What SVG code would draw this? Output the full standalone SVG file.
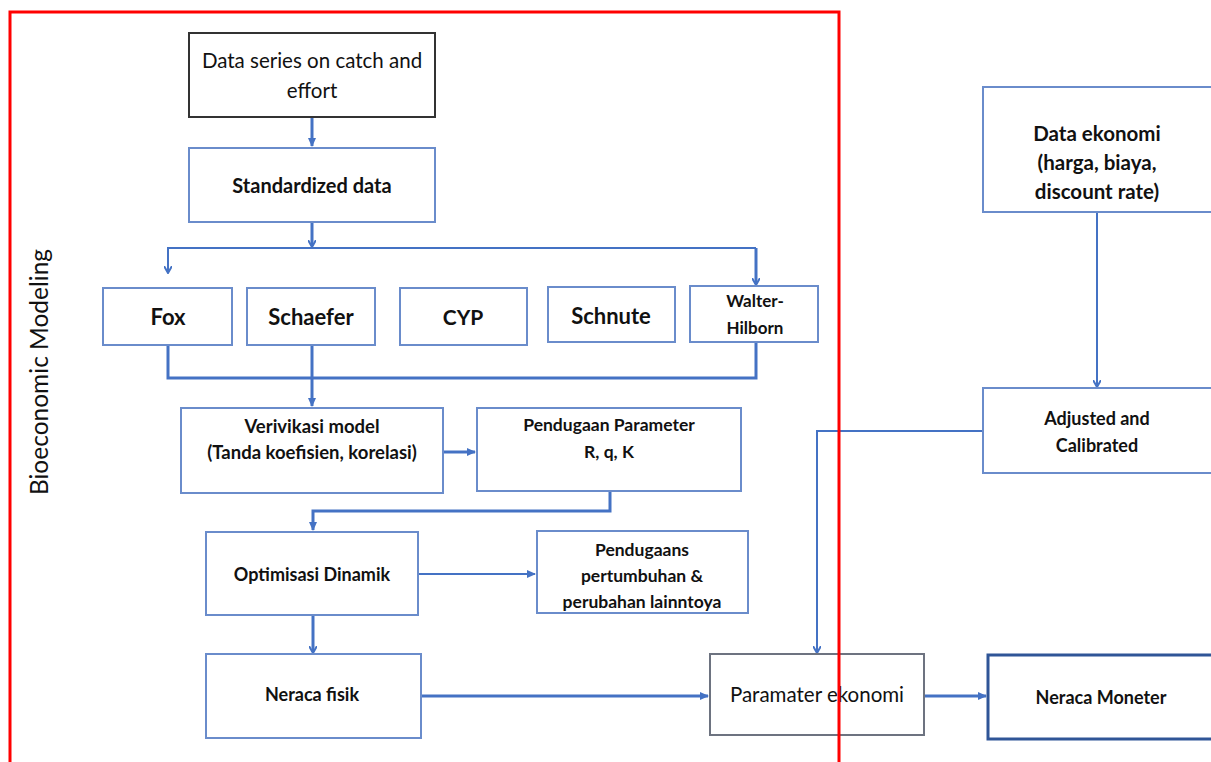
<svg xmlns="http://www.w3.org/2000/svg" width="1211" height="762" viewBox="0 0 1211 762">
<style>
.box{fill:#fff;stroke:#6A8CCB;stroke-width:2}
.dark{fill:#fff;stroke:#333;stroke-width:2}
.gray{fill:#fff;stroke:#6D7380;stroke-width:2}
.navy{fill:#fff;stroke:#2F5597;stroke-width:3}
.c{fill:none;stroke:#4472C4;stroke-width:3}
.t{fill:none;stroke:#4472C4;stroke-width:2}
text{font-family:Lato,"Liberation Sans",sans-serif;fill:#111;text-anchor:middle}
.b{font-weight:bold}
</style>
<defs>
<marker id="ah" markerWidth="8" markerHeight="8" refX="6" refY="4" orient="auto" markerUnits="userSpaceOnUse" viewBox="0 0 8 8">
<path d="M0,0 L7,4 L0,8" fill="none" stroke="#4472C4" stroke-width="2"/>
</marker>
<marker id="af" markerWidth="10" markerHeight="10" refX="8" refY="5" orient="auto" markerUnits="userSpaceOnUse" viewBox="0 0 10 10">
<path d="M0,1 L9,5 L0,9 Z" fill="#4472C4"/>
</marker>
</defs>
<rect width="1211" height="762" fill="#fff"/>

<g id="connectors">
<line class="c" x1="312" y1="117" x2="312" y2="146" marker-end="url(#af)"/>
<line class="c" x1="312" y1="210" x2="312" y2="246" marker-end="url(#ah)"/>
<polyline class="t" points="168,272 168,248 756,248"/>
<line class="t" x1="168" y1="262" x2="168" y2="272" marker-end="url(#ah)"/>
<line class="c" x1="756" y1="248" x2="756" y2="284" marker-end="url(#ah)"/>
<polyline class="c" points="168,345 168,378 756,378 756,342"/>
<line class="c" x1="312" y1="345" x2="312" y2="406" marker-end="url(#af)"/>
<line class="c" x1="443" y1="452" x2="475" y2="452" marker-end="url(#af)"/>
<polyline class="c" points="610,491 610,511 313,511 313,530" marker-end="url(#af)"/>
<line class="t" x1="418" y1="574" x2="535" y2="574" marker-end="url(#af)"/>
<line class="c" x1="313" y1="615" x2="313" y2="652" marker-end="url(#ah)"/>
<line class="c" x1="421" y1="696" x2="708" y2="696" marker-end="url(#af)"/>
<line class="c" x1="924" y1="696" x2="986" y2="696" marker-end="url(#af)"/>
<line class="t" x1="1097" y1="213" x2="1097" y2="386" marker-end="url(#ah)"/>
<polyline class="t" points="983,431 817,431 817,652" marker-end="url(#ah)"/>
</g>

<g id="n-data-series">
<rect class="dark" x="189" y="33" width="246" height="84"/>
<text x="312" y="68" font-size="20.5">Data series on catch and</text>
<text x="312" y="98" font-size="20.5">effort</text>
</g>
<g id="n-standardized">
<rect class="box" x="189" y="148" width="246" height="74"/>
<text class="b" x="312" y="193" font-size="20">Standardized data</text>
</g>
<g id="n-fox">
<rect class="box" x="103" y="288" width="129" height="57"/>
<text class="b" x="168" y="325" font-size="22">Fox</text>
</g>
<g id="n-schaefer">
<rect class="box" x="247" y="288" width="128" height="57"/>
<text class="b" x="311" y="325" font-size="22">Schaefer</text>
</g>
<g id="n-cyp">
<rect class="box" x="400" y="288" width="127" height="57"/>
<text class="b" x="463" y="325" font-size="21">CYP</text>
</g>
<g id="n-schnute">
<rect class="box" x="548" y="287" width="127" height="55"/>
<text class="b" x="611" y="324" font-size="22">Schnute</text>
</g>
<g id="n-walter">
<rect class="box" x="690" y="286" width="128" height="56"/>
<text class="b" x="755" y="307" font-size="17">Walter-</text>
<text class="b" x="755" y="334" font-size="17">Hilborn</text>
</g>
<g id="n-verivikasi">
<rect class="box" x="181" y="408" width="262" height="85"/>
<text class="b" x="312" y="433" font-size="18.5">Verivikasi model</text>
<text class="b" x="312" y="459" font-size="18.5">(Tanda koefisien, korelasi)</text>
</g>
<g id="n-pendugaan-param">
<rect class="box" x="477" y="408" width="264" height="83"/>
<text class="b" x="609" y="431" font-size="17.5">Pendugaan Parameter</text>
<text class="b" x="609" y="458" font-size="17.5">R, q, K</text>
</g>
<g id="n-optimisasi">
<rect class="box" x="206" y="532" width="212" height="83"/>
<text class="b" x="312" y="581" font-size="18">Optimisasi Dinamik</text>
</g>
<g id="n-pendugaans">
<rect class="box" x="537" y="531" width="211" height="82"/>
<text class="b" x="642" y="556" font-size="17.5">Pendugaans</text>
<text class="b" x="642" y="582" font-size="17.5">pertumbuhan &amp;</text>
<text class="b" x="642" y="608" font-size="17.5">perubahan lainntoya</text>
</g>
<g id="n-neraca-fisik">
<rect class="box" x="206" y="654" width="215" height="84"/>
<text class="b" x="312" y="701" font-size="18">Neraca fisik</text>
</g>
<g id="n-paramater">
<rect class="gray" x="710" y="654" width="214" height="81"/>
<text x="817" y="702" font-size="20.5">Paramater ekonomi</text>
</g>
<g id="n-neraca-moneter">
<rect class="navy" x="988" y="655" width="230" height="84"/>
<text class="b" x="1101" y="704" font-size="18">Neraca Moneter</text>
</g>
<g id="n-data-ekonomi">
<rect class="box" x="983" y="87" width="235" height="125"/>
<text class="b" x="1097" y="141" font-size="20.5">Data ekonomi</text>
<text class="b" x="1097" y="170" font-size="20.5">(harga, biaya,</text>
<text class="b" x="1097" y="199" font-size="20.5">discount rate)</text>
</g>
<g id="n-adjusted">
<rect class="box" x="983" y="388" width="235" height="85"/>
<text class="b" x="1097" y="425" font-size="18">Adjusted and</text>
<text class="b" x="1097" y="452" font-size="18">Calibrated</text>
</g>

<g id="frame">
<rect x="10" y="12" width="829" height="770" fill="none" stroke="#FF0000" stroke-width="3"/>
<text x="48" y="372" font-size="24.5" font-family="'Open Sans',sans-serif" transform="rotate(-90 48 372)">Bioeconomic Modeling</text>
</g>
</svg>
